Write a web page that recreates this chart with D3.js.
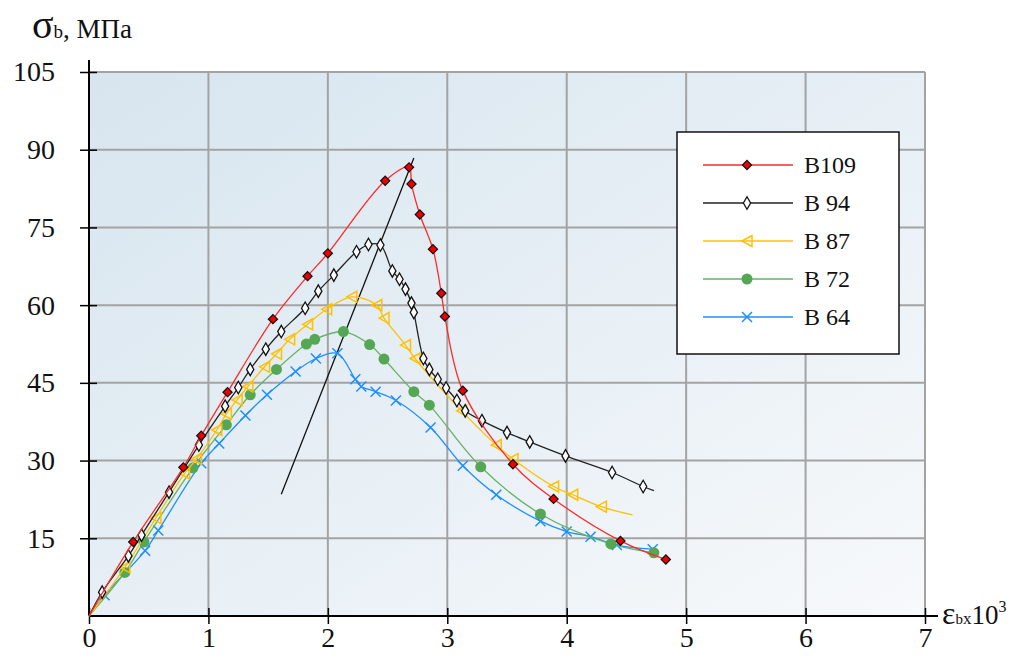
<!DOCTYPE html>
<html>
<head>
<meta charset="utf-8">
<script src="https://cdn.jsdelivr.net/npm/d3@7"></script>
<style>
  body { margin: 0; background: #fff; }
  svg { display: block; font-family: "Liberation Serif", "Times New Roman", serif; }
  svg text { font-family: "Liberation Serif", "Times New Roman", serif; }
</style>
</head>
<body>
<svg id="chart" width="1017" height="660"></svg>
<script>
// ---- data (strain x10^3, stress MPa) ----
const xTicks = [0, 1, 2, 3, 4, 5, 6, 7];
const yTicks = [15, 30, 45, 60, 75, 90, 105];

const b109 = [[0,0],[0.37,14.3],[0.79,28.7],[0.94,34.8],[1.16,43.2],[1.54,57.3],[1.83,65.6],[2.0,70.0],
  [2.48,84.0],[2.68,86.6],[2.70,83.4],[2.77,77.5],[2.88,70.8],[2.95,62.3],[2.98,57.8],[3.13,43.5],
  [3.55,29.3],[3.89,22.6],[4.45,14.5],[4.83,10.9]];
const b94 = [[0,0],[0.11,4.6],[0.33,11.6],[0.44,15.6],[0.67,23.9],[0.92,33.0],[1.14,40.5],[1.25,44.1],
  [1.35,47.6],[1.48,51.5],[1.61,54.9],[1.81,59.4],[1.92,62.7],[2.05,65.8],[2.24,70.3],[2.34,71.7],
  [2.44,71.6],[2.54,66.6],[2.60,65.0],[2.65,63.1],[2.70,60.4],[2.72,58.6],[2.80,49.7],[2.85,47.6],
  [2.92,45.7],[2.99,44.0],[3.08,41.6],[3.15,39.6],[3.29,37.7],[3.50,35.4],[3.69,33.6],[3.99,30.9],
  [4.38,27.7],[4.64,25.0],[4.73,24.2]];
const b87 = [[0,0],[0.30,9.4],[0.56,18.9],[0.80,27.5],[0.90,30.3],[1.07,35.9],[1.15,39.0],[1.24,41.7],
  [1.33,44.3],[1.47,48.1],[1.57,50.6],[1.68,53.4],[1.83,56.3],[1.99,59.2],[2.20,61.6],[2.41,60.0],
  [2.47,57.5],[2.65,52.3],[2.73,49.7],[3.12,39.6],[3.41,33.0],[3.55,30.3],[3.89,25.0],[4.05,23.4],
  [4.29,21.1],[4.55,19.5]];
const b72 = [[0,0],[0.30,8.4],[0.46,14.3],[0.87,28.6],[1.15,36.9],[1.35,42.7],[1.57,47.6],[1.82,52.5],
  [1.89,53.4],[2.13,54.9],[2.35,52.4],[2.47,49.6],[2.72,43.3],[2.85,40.7],[3.28,28.8],[3.78,19.7],
  [4.37,13.9],[4.73,12.2]];
const b64 = [[0,0],[0.13,4.0],[0.47,12.6],[0.58,16.5],[0.94,29.5],[1.09,33.3],[1.31,38.7],[1.49,42.7],
  [1.73,47.2],[1.90,49.7],[2.08,50.7],[2.23,45.7],[2.28,44.3],[2.40,43.3],[2.57,41.6],[2.86,36.4],
  [3.13,29.0],[3.41,23.4],[3.78,18.3],[4.0,16.3],[4.20,15.3],[4.42,13.7],[4.72,12.9]];
// straight guide line through the peaks
const peakLine = [[1.61,23.5],[2.72,88.4]];

const seriesNames = ["B109", "B 94", "B 87", "B 72", "B 64"];
const seriesData = [b109, b94, b87, b72, b64];
const seriesColors = ["#ff2a2a", "#222222", "#ffc000", "#66b266", "#1e8fff"];
// points without a marker (line ends)
const noMarkerEnd = [false, true, true, false, false];

const serif = "'Liberation Serif', 'Times New Roman', serif";

// ---- layout ----
const svg = d3.select("#chart");
const x = d3.scaleLinear().domain([0, 7]).range([89, 925]);
const y = d3.scaleLinear().domain([0, 105]).range([616, 72]);

// background gradient
const defs = svg.append("defs");
const grad = defs.append("linearGradient").attr("id", "bg")
  .attr("x1", "0%").attr("y1", "0%").attr("x2", "100%").attr("y2", "100%");
grad.append("stop").attr("offset", "0%").attr("stop-color", "#d7e5ef");
grad.append("stop").attr("offset", "100%").attr("stop-color", "#f7f9fb");

svg.append("rect")
  .attr("x", x(0)).attr("y", y(105))
  .attr("width", x(7) - x(0)).attr("height", y(0) - y(105))
  .attr("fill", "url(#bg)");

// grid
svg.append("g").selectAll("line").data(xTicks.slice(1)).join("line")
  .attr("x1", d => x(d)).attr("x2", d => x(d))
  .attr("y1", y(0)).attr("y2", y(105))
  .attr("stroke", "#a3a3a3").attr("stroke-width", 2);
svg.append("g").selectAll("line").data(yTicks).join("line")
  .attr("x1", x(0)).attr("x2", x(7))
  .attr("y1", d => y(d)).attr("y2", d => y(d))
  .attr("stroke", "#a3a3a3").attr("stroke-width", 2);

// axes
const xAxis = svg.append("g").attr("transform", `translate(0,${y(0)})`)
  .call(d3.axisBottom(x).tickValues(xTicks).tickSize(8).tickPadding(3).tickFormat(d3.format("d")));
xAxis.attr("font-family", null);
xAxis.select(".domain").remove();
xAxis.selectAll(".tick line").attr("y1", -8).attr("y2", 8).attr("stroke", "#000").attr("stroke-width", 1.5);
xAxis.selectAll(".tick text").attr("font-size", 28).attr("fill", "#111").style("font-family", serif);

const yAxis = svg.append("g").attr("transform", `translate(${x(0)},0)`)
  .call(d3.axisLeft(y).tickValues(yTicks).tickSize(8).tickPadding(26));
yAxis.attr("font-family", null);
yAxis.select(".domain").remove();
yAxis.selectAll(".tick line").attr("x1", -9).attr("x2", 8).attr("stroke", "#000").attr("stroke-width", 1.5);
yAxis.selectAll(".tick text").attr("font-size", 28).attr("fill", "#111").style("font-family", serif);

svg.append("line").attr("x1", x(0)).attr("x2", 938).attr("y1", y(0)).attr("y2", y(0))
  .attr("stroke", "#000").attr("stroke-width", 2);
svg.append("line").attr("x1", x(0)).attr("x2", x(0)).attr("y1", y(0)).attr("y2", 60)
  .attr("stroke", "#000").attr("stroke-width", 2);

// axis titles
const yTitle = svg.append("text").attr("x", 32).attr("y", 38).attr("fill", "#111").style("font-family", serif);
yTitle.append("tspan").attr("font-size", 40).text("σ");
yTitle.append("tspan").attr("font-size", 19).text("b");
yTitle.append("tspan").attr("font-size", 27).text(", МПа");

const xTitle = svg.append("text").attr("x", 942).attr("y", 624).attr("fill", "#111").style("font-family", serif);
xTitle.append("tspan").attr("font-size", 32).text("ε");
xTitle.append("tspan").attr("font-size", 15).text("b");
xTitle.append("tspan").attr("font-size", 17).text("x");
xTitle.append("tspan").attr("font-size", 27).text("10");
xTitle.append("tspan").attr("font-size", 16).attr("dy", -12).text("3");

// markers
function drawMarker(g, i) {
  const c = seriesColors[i];
  if (i === 0) {
    g.append("path").attr("d", d3.symbol(d3.symbolSquare, 42)())
      .attr("transform", "rotate(45)").attr("fill", "#ee0000").attr("stroke", "#111").attr("stroke-width", 1.2);
  } else if (i === 1) {
    g.append("path").attr("d", d3.symbol(d3.symbolDiamond, 45)())
      .attr("fill", "#fff").attr("stroke", "#111").attr("stroke-width", 1.3);
  } else if (i === 2) {
    g.append("path").attr("d", "M-5,0L5,-5.5L5,5.5Z")
      .attr("fill", "none").attr("stroke", c).attr("stroke-width", 1.5);
  } else if (i === 3) {
    g.append("circle").attr("r", 5.5).attr("fill", "#55a755");
  } else {
    g.append("path").attr("d", "M-5,-5L5,5M-5,5L5,-5")
      .attr("stroke", c).attr("stroke-width", 1.5).attr("fill", "none");
  }
}

const line = d3.line().x(d => x(d[0])).y(d => y(d[1])).curve(d3.curveCatmullRom.alpha(0.5));

// peak line
svg.append("path").attr("d", d3.line().x(d => x(d[0])).y(d => y(d[1]))(peakLine))
  .attr("fill", "none").attr("stroke", "#111").attr("stroke-width", 1.3);

// series (draw lowest first)
for (let i = seriesData.length - 1; i >= 0; i--) {
  const data = seriesData[i];
  svg.append("path").attr("d", line(data))
    .attr("fill", "none").attr("stroke", seriesColors[i]).attr("stroke-width", 1.3);
  const pts = data.slice(1, noMarkerEnd[i] ? data.length - 1 : data.length);
  pts.forEach(p => {
    const g = svg.append("g").attr("transform", `translate(${x(p[0])},${y(p[1])})`);
    drawMarker(g, i);
  });
}

// legend
const legend = svg.append("g");
legend.append("rect").attr("x", 677).attr("y", 132).attr("width", 222).attr("height", 222)
  .attr("fill", "#fff").attr("stroke", "#111").attr("stroke-width", 1.5);
const ly = d3.scalePoint().domain(seriesNames).range([165, 317]);
seriesNames.forEach((name, i) => {
  const yy = ly(name);
  legend.append("line").attr("x1", 703).attr("x2", 793).attr("y1", yy).attr("y2", yy)
    .attr("stroke", seriesColors[i]).attr("stroke-width", 1.5);
  drawMarker(legend.append("g").attr("transform", `translate(747,${yy})`), i);
  legend.append("text").attr("x", 804).attr("y", yy + 8).attr("font-size", 24)
    .attr("fill", "#111").style("font-family", serif).text(name);
});
</script>
</body>
</html>
